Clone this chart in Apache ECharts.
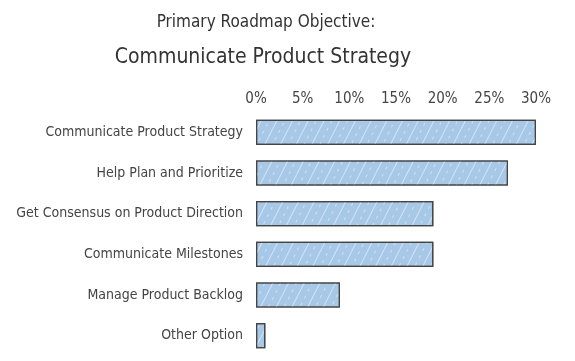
<!DOCTYPE html>
<html>
<head>
<meta charset="utf-8">
<script src="https://cdn.jsdelivr.net/npm/echarts@6/dist/echarts.min.js"></script>
<style>html,body{margin:0;padding:0;background:#fff}#c{width:575px;height:361px}</style>
</head>
<body>
<div id="c"></div>
<script>
const titleLine1 = "Primary Roadmap Objective:";
const titleLine2 = "Communicate Product Strategy";
const categories = ["Communicate Product Strategy","Help Plan and Prioritize","Get Consensus on Product Direction","Communicate Milestones","Manage Product Backlog","Other Option"];
const values = [30, 27, 19, 19, 9, 1];
const tickValues = [0, 5, 10, 15, 20, 25, 30];

const FONT = '"Liberation Sans Narrow", "DejaVu Sans Condensed", sans-serif';
const chart = echarts.init(document.getElementById('c'));
chart.setOption({
  animation: false,
  title: [
    {text: titleLine1, left: 261, top: 9, textAlign: 'center',
     textStyle: {fontFamily: FONT, fontWeight: 'normal', fontSize: 17, color: '#333'}},
    {text: titleLine2, left: 258, top: 42, textAlign: 'center',
     textStyle: {fontFamily: FONT, fontWeight: 'normal', fontSize: 21, color: '#333'}}
  ],
  grid: {left: 256, right: 39, top: 112, bottom: 5, outerBoundsMode: 'none', containLabel: false},
  xAxis: {
    type: 'value', position: 'top', min: 0, max: 30, interval: 5,
    axisLine: {show: false}, axisTick: {show: false}, splitLine: {show: false},
    axisLabel: {formatter: v => tickValues.includes(v) ? v + '%' : '', margin: 5,
      fontFamily: FONT, fontSize: 15, color: '#444'}
  },
  yAxis: {
    type: 'category', data: categories, inverse: true,
    axisLine: {show: false}, axisTick: {show: false},
    axisLabel: {margin: 13, fontFamily: FONT, fontSize: 14, color: '#444'}
  },
  series: [{
    type: 'bar', data: values, barCategoryGap: '38%',
    itemStyle: {color: '#a8c8e8', borderColor: '#444', borderWidth: 1.2,
      decal: {symbol: 'rect', symbolSize: 0.9, dashArrayX: [[1, 0], [3, 5]], dashArrayY: [1, 6], rotation: -1.1, color: 'rgba(255,255,255,0.55)'}}
  }]
});
</script>
</body>
</html>
